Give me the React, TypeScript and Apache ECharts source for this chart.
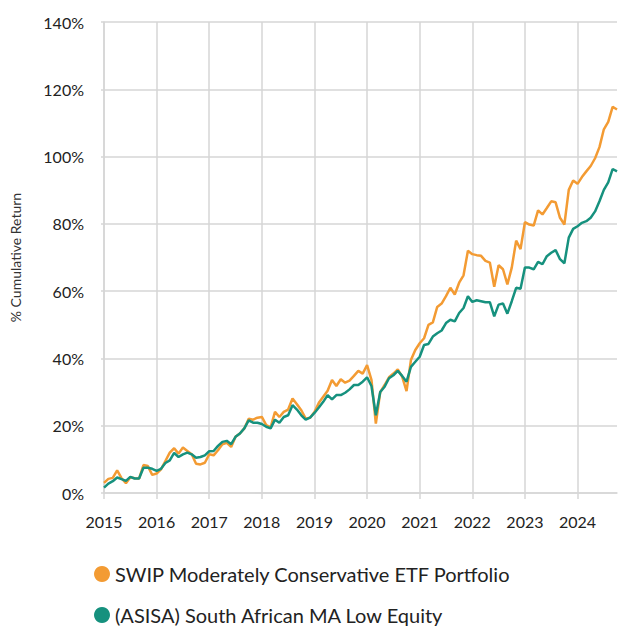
import React, { useEffect, useRef } from "react";
import * as echarts from "echarts";

const startYear = 2015;
const monthCount = 118; // Jan 2015 .. Oct 2024
const categories: string[] = [];
for (let i = 0; i < monthCount; i++) {
  const y = startYear + Math.floor(i / 12);
  const m = (i % 12) + 1;
  categories.push(`${y}-${m < 10 ? "0" + m : m}`);
}

const yTicks = [0, 20, 40, 60, 80, 100, 120, 140];

const swipPortfolio = [
  3.0, 4.2, 4.5, 6.7, 4.4, 2.9, 4.7, 4.4, 4.3, 8.3, 8.0, 5.4,
  5.8, 7.0, 9.5, 12.0, 13.3, 11.7, 13.5, 12.5, 11.5, 8.7, 8.5, 9.0,
  11.5, 11.2, 12.7, 14.5, 14.9, 13.7, 16.7, 17.7, 19.2, 22.1, 21.8, 22.4,
  22.6, 20.2, 19.5, 24.1, 22.6, 24.1, 24.8, 28.1, 26.4, 24.6, 22.1, 22.4,
  24.1, 26.8, 28.6, 30.4, 33.6, 31.8, 33.8, 32.8, 33.4, 34.8, 36.3, 35.5,
  38.0, 33.6, 20.6, 30.0, 32.1, 34.4, 35.5, 36.7, 34.6, 30.3, 39.5, 42.5,
  44.5, 46.0, 50.0, 50.7, 55.3, 56.3, 58.5, 61.0, 59.0, 62.5, 64.7, 72.0,
  71.0, 70.7, 70.5, 69.0, 68.5, 61.3, 67.7, 66.5, 62.0, 67.0, 75.0, 72.5,
  80.5, 79.8, 79.5, 84.0, 82.8, 84.7, 86.7, 86.4, 81.8, 79.8, 90.1, 92.9,
  91.9, 93.9, 95.6, 97.2, 99.5, 102.8, 108.1, 110.3, 114.8, 114.0,
];

const asisaLowEquity = [
  1.6, 2.8, 3.5, 4.6, 4.1, 3.6, 4.8, 4.3, 4.3, 7.5, 7.5, 7.2,
  6.6, 7.2, 8.9, 9.7, 11.9, 10.7, 11.5, 12.0, 11.5, 10.5, 10.7, 11.2,
  12.4, 12.5, 14.0, 15.2, 15.5, 14.5, 16.7, 17.7, 19.2, 21.6, 20.9, 20.9,
  20.5, 19.7, 19.2, 21.8, 20.9, 22.6, 23.1, 26.1, 24.8, 23.1, 21.8, 22.4,
  23.8, 25.4, 27.1, 29.1, 27.8, 29.1, 29.1, 29.8, 30.8, 32.1, 32.1, 33.1,
  34.4, 31.8, 23.1, 30.0, 31.6, 34.1, 35.0, 36.3, 34.8, 33.1, 37.5, 39.0,
  40.5, 44.0, 44.3, 46.5, 47.5, 48.3, 50.5, 51.5, 51.0, 53.5, 55.0, 58.5,
  56.8, 57.3, 57.0, 56.7, 56.7, 52.5, 56.0, 56.3, 53.3, 57.0, 61.0, 60.7,
  67.0, 67.0, 66.5, 68.7, 68.0, 70.4, 71.4, 72.2, 69.5, 68.3, 75.9, 78.5,
  79.3, 80.3, 80.8, 81.8, 83.7, 86.7, 90.1, 92.3, 96.3, 95.6,
];

const seriesNames = [
  "SWIP Moderately Conservative ETF Portfolio",
  "(ASISA) South African MA Low Equity",
];
const yAxisName = "% Cumulative Return";

const FONT = "Lato, 'Open Sans', sans-serif";
const ORANGE = "#F39B33";
const TEAL = "#16917E";
const GRID = "#d6d6d6";

export default function App() {
  const ref = useRef<HTMLDivElement>(null);
  useEffect(() => {
    if (!ref.current) return;
    const chart = echarts.init(ref.current, undefined, { renderer: "svg" });
    const isYear = (i: number) => i % 12 === 0;
    const legendBase = {
      orient: "horizontal",
      left: 94,
      itemWidth: 16,
      itemHeight: 16,
      itemTextGap: 5,
      icon: "circle",
      padding: 0,
      textStyle: { fontFamily: FONT, fontSize: 20, color: "#222" },
    };
    chart.setOption({
      animation: false,
      backgroundColor: "#ffffff",
      textStyle: { fontFamily: FONT },
      grid: { left: 97, right: 1, top: 22, bottom: 135, containLabel: false },
      legend: [
        { ...legendBase, top: 564, data: [seriesNames[0]] },
        { ...legendBase, top: 605, data: [seriesNames[1]] },
      ],
      xAxis: {
        type: "category",
        data: categories,
        boundaryGap: false,
        axisLine: { show: true, lineStyle: { color: GRID, width: 1.5 } },
        axisTick: {
          show: true,
          interval: (i: number) => isYear(i),
          length: 6,
          lineStyle: { color: GRID, width: 1.5 },
        },
        axisLabel: {
          interval: (i: number) => isYear(i),
          formatter: (v: string) => v.slice(0, 4),
          fontSize: 16,
          color: "#222",
          margin: 20,
          fontFamily: FONT,
        },
        splitLine: {
          show: true,
          interval: (i: number) => isYear(i),
          lineStyle: { color: GRID, width: 1.5 },
        },
      },
      yAxis: {
        type: "value",
        min: yTicks[0],
        max: yTicks[yTicks.length - 1],
        interval: yTicks[1] - yTicks[0],
        name: yAxisName,
        nameLocation: "middle",
        nameGap: 82,
        nameTextStyle: { fontSize: 14, color: "#333", fontFamily: FONT },
        axisLine: { show: true, lineStyle: { color: GRID, width: 1.5 } },
        axisTick: { show: true, length: 3, lineStyle: { color: GRID, width: 1.5 } },
        axisLabel: {
          formatter: "{value}%",
          fontSize: 16,
          color: "#222",
          margin: 20,
          fontFamily: FONT,
        },
        splitLine: { show: true, lineStyle: { color: GRID, width: 1.5 } },
      },
      series: [
        {
          name: seriesNames[0],
          type: "line",
          data: swipPortfolio,
          showSymbol: false,
          symbol: "circle",
          lineStyle: { color: ORANGE, width: 2.5 },
          itemStyle: { color: ORANGE },
          z: 2,
        },
        {
          name: seriesNames[1],
          type: "line",
          data: asisaLowEquity,
          showSymbol: false,
          symbol: "circle",
          lineStyle: { color: TEAL, width: 2.5 },
          itemStyle: { color: TEAL },
          z: 3,
        },
      ],
    });
    return () => chart.dispose();
  }, []);
  return (
    <div
      ref={ref}
      style={{ position: "fixed", left: 0, top: 0, width: 618, height: 628 }}
    />
  );
}
